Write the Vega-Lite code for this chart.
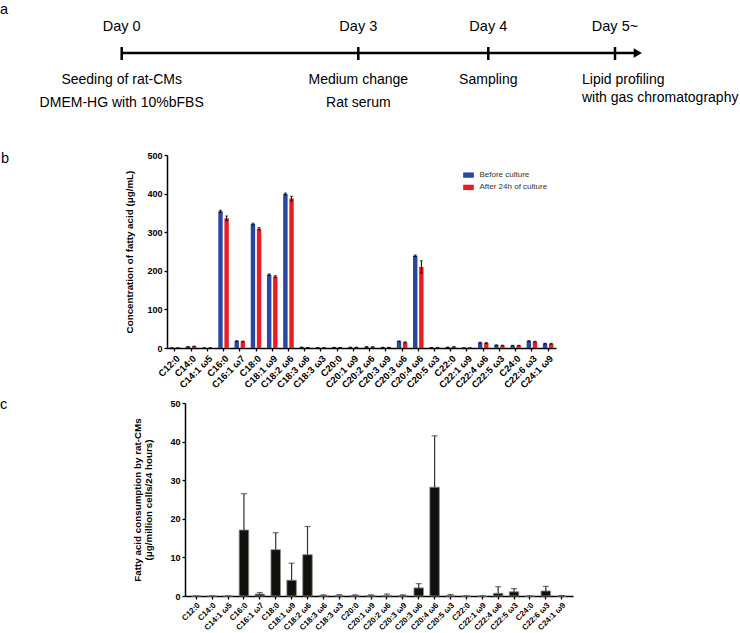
{
  "$schema": "https://vega.github.io/schema/vega-lite/v6.json",
  "padding": {"left": 0, "top": 0, "right": 0, "bottom": 8},
  "background": "white",
  "bounds": "flush",
  "spacing": 55,
  "config": {
    "view": {"stroke": null},
    "font": "Liberation Sans",
    "axis": {
      "domainColor": "black", "domainWidth": 1.5, "tickColor": "black", "tickWidth": 1.3, "tickSize": 3,
      "labelColor": "black", "labelFont": "Liberation Sans", "labelFontWeight": "bold", "labelFontSize": 9, "labelPadding": 2,
      "labelOverlap": false, "labelBound": false,
      "titleColor": "black", "titleFont": "Liberation Sans", "titleFontWeight": "bold", "titleFontSize": 9.8, "grid": false
    },
    "title": {"font": "Liberation Sans", "fontSize": 14.5, "fontWeight": "normal", "color": "black", "anchor": "start", "frame": "group", "offset": 0, "baseline": "top"}
  },
  "datasets": {
    "timeline": [
      {"day": 0, "label": "Day 0", "event": "Seeding of rat-CMs\nDMEM-HG with 10%bFBS"},
      {"day": 3, "label": "Day 3", "event": "Medium change\nRat serum"},
      {"day": 4, "label": "Day 4", "event": "Sampling"},
      {"day": 5, "label": "Day 5~", "event": "Lipid profiling\nwith gas chromatography"}
    ],
    "arrowline": [{"from": 0, "to": 5.18}],
    "panelB": [
      {"fa": "C12:0", "group": "Before culture", "value": 0.4, "low": 0.4, "high": 0.4},
      {"fa": "C12:0", "group": "After 24h of culture", "value": 0.3, "low": 0.3, "high": 0.3},
      {"fa": "C14:0", "group": "Before culture", "value": 3.4, "low": 3.1, "high": 3.7},
      {"fa": "C14:0", "group": "After 24h of culture", "value": 4.5, "low": 4.1, "high": 4.9},
      {"fa": "C14:1 ω5", "group": "Before culture", "value": 0.3, "low": 0.3, "high": 0.3},
      {"fa": "C14:1 ω5", "group": "After 24h of culture", "value": 0.3, "low": 0.3, "high": 0.3},
      {"fa": "C16:0", "group": "Before culture", "value": 354, "low": 351, "high": 357},
      {"fa": "C16:0", "group": "After 24h of culture", "value": 336, "low": 330, "high": 342},
      {"fa": "C16:1 ω7", "group": "Before culture", "value": 18, "low": 17, "high": 19},
      {"fa": "C16:1 ω7", "group": "After 24h of culture", "value": 17, "low": 16, "high": 18},
      {"fa": "C18:0", "group": "Before culture", "value": 321, "low": 318.5, "high": 323.5},
      {"fa": "C18:0", "group": "After 24h of culture", "value": 309, "low": 306, "high": 312},
      {"fa": "C18:1 ω9", "group": "Before culture", "value": 190, "low": 188, "high": 192},
      {"fa": "C18:1 ω9", "group": "After 24h of culture", "value": 185, "low": 182.5, "high": 187.5},
      {"fa": "C18:2 ω6", "group": "Before culture", "value": 399, "low": 396.5, "high": 401.5},
      {"fa": "C18:2 ω6", "group": "After 24h of culture", "value": 387, "low": 381, "high": 393},
      {"fa": "C18:3 ω6", "group": "Before culture", "value": 2, "low": 1.7, "high": 2.3},
      {"fa": "C18:3 ω6", "group": "After 24h of culture", "value": 1.2, "low": 1.2, "high": 1.2},
      {"fa": "C18:3 ω3", "group": "Before culture", "value": 0.6, "low": 0.6, "high": 0.6},
      {"fa": "C18:3 ω3", "group": "After 24h of culture", "value": 0.6, "low": 0.6, "high": 0.6},
      {"fa": "C20:0", "group": "Before culture", "value": 1.5, "low": 1.5, "high": 1.5},
      {"fa": "C20:0", "group": "After 24h of culture", "value": 1.2, "low": 1.2, "high": 1.2},
      {"fa": "C20:1 ω9", "group": "Before culture", "value": 1.8, "low": 1.8, "high": 1.8},
      {"fa": "C20:1 ω9", "group": "After 24h of culture", "value": 1.8, "low": 1.8, "high": 1.8},
      {"fa": "C20:2 ω6", "group": "Before culture", "value": 3.2, "low": 2.9, "high": 3.5},
      {"fa": "C20:2 ω6", "group": "After 24h of culture", "value": 3.0, "low": 2.7, "high": 3.3},
      {"fa": "C20:3 ω9", "group": "Before culture", "value": 1.6, "low": 1.6, "high": 1.6},
      {"fa": "C20:3 ω9", "group": "After 24h of culture", "value": 1.5, "low": 1.5, "high": 1.5},
      {"fa": "C20:3 ω6", "group": "Before culture", "value": 17.5, "low": 16.5, "high": 18.5},
      {"fa": "C20:3 ω6", "group": "After 24h of culture", "value": 14.5, "low": 13, "high": 16},
      {"fa": "C20:4 ω6", "group": "Before culture", "value": 239, "low": 237, "high": 241},
      {"fa": "C20:4 ω6", "group": "After 24h of culture", "value": 210, "low": 194, "high": 226},
      {"fa": "C20:5 ω3", "group": "Before culture", "value": 1.2, "low": 1.2, "high": 1.2},
      {"fa": "C20:5 ω3", "group": "After 24h of culture", "value": 1.0, "low": 1.0, "high": 1.0},
      {"fa": "C22:0", "group": "Before culture", "value": 2.0, "low": 1.7, "high": 2.3},
      {"fa": "C22:0", "group": "After 24h of culture", "value": 3.0, "low": 2.5, "high": 3.5},
      {"fa": "C22:1 ω9", "group": "Before culture", "value": 0.3, "low": 0.3, "high": 0.3},
      {"fa": "C22:1 ω9", "group": "After 24h of culture", "value": 0.3, "low": 0.3, "high": 0.3},
      {"fa": "C22:4 ω6", "group": "Before culture", "value": 14, "low": 13, "high": 15},
      {"fa": "C22:4 ω6", "group": "After 24h of culture", "value": 13, "low": 11.5, "high": 14.5},
      {"fa": "C22:5 ω3", "group": "Before culture", "value": 7.5, "low": 6.8, "high": 8.2},
      {"fa": "C22:5 ω3", "group": "After 24h of culture", "value": 6.5, "low": 5.8, "high": 7.2},
      {"fa": "C24:0", "group": "Before culture", "value": 6.5, "low": 6, "high": 7},
      {"fa": "C24:0", "group": "After 24h of culture", "value": 6.5, "low": 6, "high": 7},
      {"fa": "C22:6 ω3", "group": "Before culture", "value": 18, "low": 17, "high": 19},
      {"fa": "C22:6 ω3", "group": "After 24h of culture", "value": 16.5, "low": 15.5, "high": 17.5},
      {"fa": "C24:1 ω9", "group": "Before culture", "value": 11.5, "low": 10.5, "high": 12.5},
      {"fa": "C24:1 ω9", "group": "After 24h of culture", "value": 11, "low": 10, "high": 12}
    ],
    "panelC": [
      {"fa": "C12:0", "value": 0, "high": 0},
      {"fa": "C14:0", "value": 0, "high": 0},
      {"fa": "C14:1 ω5", "value": 0, "high": 0},
      {"fa": "C16:0", "value": 17.1, "high": 26.5},
      {"fa": "C16:1 ω7", "value": 0.5, "high": 0.9},
      {"fa": "C18:0", "value": 12.0, "high": 16.4},
      {"fa": "C18:1 ω9", "value": 4.1, "high": 8.5},
      {"fa": "C18:2 ω6", "value": 10.7, "high": 18.0},
      {"fa": "C18:3 ω6", "value": 0.1, "high": 0.3},
      {"fa": "C18:3 ω3", "value": 0.1, "high": 0.35},
      {"fa": "C20:0", "value": 0.1, "high": 0.3},
      {"fa": "C20:1 ω9", "value": 0.1, "high": 0.3},
      {"fa": "C20:2 ω6", "value": 0.15, "high": 0.5},
      {"fa": "C20:3 ω9", "value": 0.1, "high": 0.3},
      {"fa": "C20:3 ω6", "value": 2.1, "high": 3.2},
      {"fa": "C20:4 ω6", "value": 28.2, "high": 41.5},
      {"fa": "C20:5 ω3", "value": 0.1, "high": 0.4},
      {"fa": "C22:0", "value": 0, "high": 0},
      {"fa": "C22:1 ω9", "value": 0, "high": 0},
      {"fa": "C22:4 ω6", "value": 0.7, "high": 2.4},
      {"fa": "C22:5 ω3", "value": 1.1, "high": 1.9},
      {"fa": "C24:0", "value": 0, "high": 0},
      {"fa": "C22:6 ω3", "value": 1.3, "high": 2.5},
      {"fa": "C24:1 ω9", "value": 0, "high": 0.1}
    ]
  },
  "vconcat": [
    {
      "width": 406,
      "height": 100,
      "title": {"text": "a", "dx": -167, "dy": 21},
      "layer": [
        {
          "data": {"name": "arrowline"},
          "mark": {"type": "rule", "strokeWidth": 2.7, "color": "black"},
          "encoding": {
            "x": {"field": "from", "type": "quantitative", "scale": {"domain": [0, 3, 4, 5, 6], "range": [-45.3, 191.3, 321.3, 448, 574.7], "nice": false, "zero": false}, "axis": null},
            "x2": {"field": "to"},
            "y": {"datum": 0, "type": "quantitative", "scale": {"domain": [-47, 53], "nice": false, "zero": false}, "axis": null}
          }
        },
        {
          "data": {"name": "arrowline"},
          "mark": {"type": "point", "shape": "triangle-right", "size": 90, "filled": true, "color": "black", "opacity": 1, "strokeWidth": 0},
          "encoding": {
            "x": {"field": "to", "type": "quantitative", "scale": {"domain": [0, 3, 4, 5, 6], "range": [-45.3, 191.3, 321.3, 448, 574.7], "nice": false, "zero": false}, "axis": null},
            "y": {"datum": 0, "type": "quantitative", "scale": {"domain": [-47, 53], "nice": false, "zero": false}, "axis": null}
          }
        },
        {
          "data": {"name": "timeline"},
          "mark": {"type": "rule", "strokeWidth": 2.5, "color": "black"},
          "encoding": {
            "x": {"field": "day", "type": "quantitative", "scale": {"domain": [0, 3, 4, 5, 6], "range": [-45.3, 191.3, 321.3, 448, 574.7], "nice": false, "zero": false}, "axis": null},
            "y": {"datum": 6, "type": "quantitative", "scale": {"domain": [-47, 53], "nice": false, "zero": false}, "axis": null},
            "y2": {"datum": -7}
          }
        },
        {
          "data": {"name": "timeline"},
          "mark": {"type": "text", "fontSize": 14.5, "baseline": "alphabetic", "align": "center", "color": "black", "font": "Liberation Sans"},
          "encoding": {
            "x": {"field": "day", "type": "quantitative", "scale": {"domain": [0, 3, 4, 5, 6], "range": [-45.3, 191.3, 321.3, 448, 574.7], "nice": false, "zero": false}, "axis": null},
            "y": {"datum": 22, "type": "quantitative", "scale": {"domain": [-47, 53], "nice": false, "zero": false}, "axis": null},
            "text": {"field": "label"}
          }
        },
        {
          "data": {"name": "timeline"},
          "transform": [{"filter": "datum.day < 5"}],
          "mark": {"type": "text", "fontSize": 14, "baseline": "alphabetic", "align": "center", "lineBreak": "\n", "lineHeight": 23, "color": "black", "font": "Liberation Sans"},
          "encoding": {
            "x": {"field": "day", "type": "quantitative", "scale": {"domain": [0, 3, 4, 5, 6], "range": [-45.3, 191.3, 321.3, 448, 574.7], "nice": false, "zero": false}, "axis": null},
            "y": {"datum": -31, "type": "quantitative", "scale": {"domain": [-47, 53], "nice": false, "zero": false}, "axis": null},
            "text": {"field": "event"}
          }
        },
        {
          "data": {"name": "timeline"},
          "transform": [{"filter": "datum.day >= 5"}],
          "mark": {"type": "text", "fontSize": 14, "baseline": "alphabetic", "align": "left", "dx": -33, "lineBreak": "\n", "lineHeight": 18, "color": "black", "font": "Liberation Sans"},
          "encoding": {
            "x": {"field": "day", "type": "quantitative", "scale": {"domain": [0, 3, 4, 5, 6], "range": [-45.3, 191.3, 321.3, 448, 574.7], "nice": false, "zero": false}, "axis": null},
            "y": {"datum": -31, "type": "quantitative", "scale": {"domain": [-47, 53], "nice": false, "zero": false}, "axis": null},
            "text": {"field": "event"}
          }
        }
      ]
    },
    {
      "width": 389,
      "height": 193,
      "title": {"text": "b", "dx": -166, "dy": 19},
      "data": {"name": "panelB"},
      "encoding": {
        "x": {"field": "fa", "type": "nominal", "sort": null, "scale": {"paddingInner": 0.35, "paddingOuter": 0.16}, "axis": {"title": null, "labelAngle": -45, "labelFontSize": 9.5}},
        "xOffset": {"field": "group", "type": "nominal", "sort": ["Before culture", "After 24h of culture"], "scale": {"paddingInner": 0.28, "paddingOuter": 0}}
      },
      "layer": [
        {
          "mark": {"type": "bar"},
          "encoding": {
            "y": {"field": "value", "type": "quantitative", "title": "Concentration of fatty acid (μg/mL)", "scale": {"domain": [0, 500], "nice": false}, "axis": {"values": [0, 100, 200, 300, 400, 500], "labelOverlap": false, "titlePadding": 12}},
            "color": {"field": "group", "type": "nominal", "sort": ["Before culture", "After 24h of culture"], "scale": {"domain": ["Before culture", "After 24h of culture"], "range": ["#2747a0", "#ec1c24"]},
              "legend": {"title": null, "orient": "none", "legendX": 296, "legendY": 169.6, "symbolType": "M-1,-0.5H1V0.5H-1Z", "symbolSize": 114, "symbolStrokeWidth": 0, "symbolOpacity": 1, "labelFontSize": 8, "labelFont": "Liberation Sans", "labelColor": "#333333", "labelOffset": 5.5, "rowPadding": 2.3}}
          }
        },
        {
          "mark": {"type": "rule", "color": "black", "strokeWidth": 1},
          "encoding": {
            "y": {"field": "low", "type": "quantitative", "title": "Concentration of fatty acid (μg/mL)", "axis": {"values": [0, 100, 200, 300, 400, 500], "labelOverlap": false, "titlePadding": 12}},
            "y2": {"field": "high"}
          }
        },
        {
          "mark": {"type": "tick", "color": "black", "size": 3, "thickness": 1},
          "encoding": {"y": {"field": "high", "type": "quantitative", "title": "Concentration of fatty acid (μg/mL)", "axis": {"values": [0, 100, 200, 300, 400, 500], "labelOverlap": false, "titlePadding": 12}}}
        },
        {
          "mark": {"type": "tick", "color": "black", "size": 3, "thickness": 1},
          "encoding": {"y": {"field": "low", "type": "quantitative", "title": "Concentration of fatty acid (μg/mL)", "axis": {"values": [0, 100, 200, 300, 400, 500], "labelOverlap": false, "titlePadding": 12}}}
        }
      ]
    },
    {
      "width": 406,
      "height": 193,
      "title": {"text": "c", "dx": -167, "dy": 17},
      "data": {"name": "panelC"},
      "encoding": {
        "x": {"field": "fa", "type": "nominal", "sort": null, "scale": {"range": [18, 406], "paddingInner": 0.4, "paddingOuter": 0.41}, "axis": {"title": null, "labelAngle": -45, "labelFontSize": 8}}
      },
      "layer": [
        {
          "mark": {"type": "bar", "color": "#12100c", "stroke": "#8c8c8c", "strokeWidth": 0.8},
          "encoding": {
            "y": {"field": "value", "type": "quantitative", "title": ["Fatty acid consumption by rat-CMs", "(μg/million cells/24 hours)"], "scale": {"domain": [0, 50], "nice": false}, "axis": {"offset": -18, "values": [0, 10, 20, 30, 40, 50], "labelOverlap": false, "titlePadding": 16, "titleLineHeight": 11.5}}
          }
        },
        {
          "mark": {"type": "rule", "color": "#333333", "strokeWidth": 1.2},
          "encoding": {
            "y": {"field": "value", "type": "quantitative", "title": ["Fatty acid consumption by rat-CMs", "(μg/million cells/24 hours)"], "axis": {"offset": -18, "values": [0, 10, 20, 30, 40, 50], "labelOverlap": false, "titlePadding": 16, "titleLineHeight": 11.5}},
            "y2": {"field": "high"}
          }
        },
        {
          "mark": {"type": "tick", "color": "#333333", "size": 6, "thickness": 1.2},
          "encoding": {"y": {"field": "high", "type": "quantitative", "title": ["Fatty acid consumption by rat-CMs", "(μg/million cells/24 hours)"], "axis": {"offset": -18, "values": [0, 10, 20, 30, 40, 50], "labelOverlap": false, "titlePadding": 16, "titleLineHeight": 11.5}}}
        }
      ]
    }
  ]
}
